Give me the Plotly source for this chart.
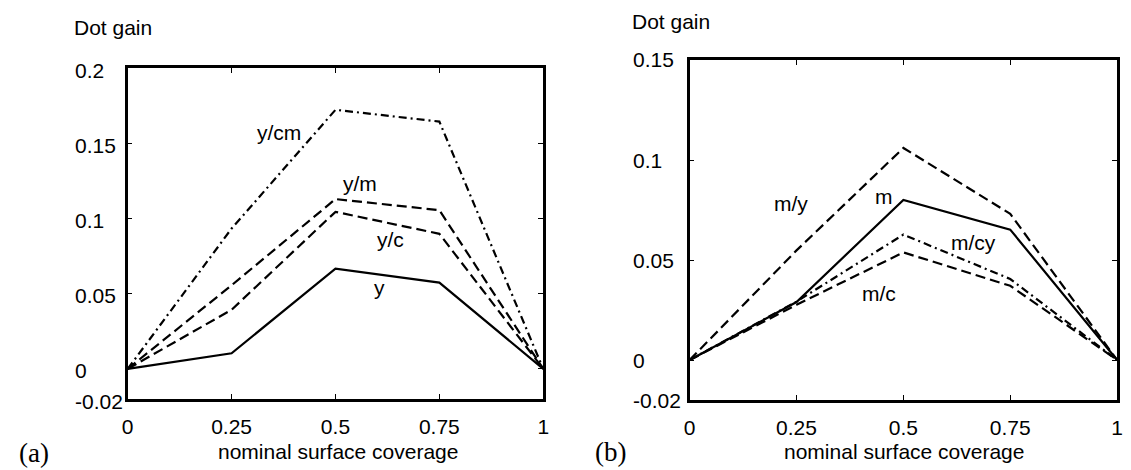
import plotly.graph_objects as go

# ---------------- data ----------------
coverage = [0, 0.25, 0.5, 0.75, 1]

# panel (a): yellow
a_y = [0, 0.0104, 0.0667, 0.0574, 0]
a_yc = [0, 0.0393, 0.1044, 0.0898, 0]
a_ym = [0, 0.0556, 0.1129, 0.1055, 0]
a_ycm = [0, 0.0933, 0.1722, 0.1644, 0]

# panel (b): magenta
b_m = [0, 0.0290, 0.0800, 0.0652, 0]
b_my = [0, 0.0548, 0.1060, 0.0731, 0]
b_mcy = [0, 0.0292, 0.0627, 0.0405, 0]
b_mc = [0, 0.0276, 0.0538, 0.0371, 0]

x_ticks = [0, 0.25, 0.5, 0.75, 1]
x_ticktext = ["0", "0.25", "0.5", "0.75", "1"]
a_yticks = [0.2, 0.15, 0.1, 0.05, 0, -0.02]
a_yticktext = ["0.2", "0.15", "0.1", "0.05", "0", "-0.02"]
b_yticks = [0.15, 0.1, 0.05, 0, -0.02]
b_yticktext = ["0.15", "0.1", "0.05", "0", "-0.02"]

a_labels = ["y/cm", "y/m", "y/c", "y"]
a_label_x = [0.363, 0.56, 0.633, 0.605]
a_label_y = [0.157, 0.123, 0.086, 0.054]
b_labels = ["m/y", "m", "m/cy", "m/c"]
b_label_x = [0.236, 0.455, 0.663, 0.443]
b_label_y = [0.0783, 0.0819, 0.059, 0.0331]

# ---------------- styles ----------------
FONT = "Liberation Sans, Arial, sans-serif"
SERIF = "Liberation Serif, Times New Roman, serif"
FS = 21
DASH = "10px,5px"
DASHDOT = "8px,4px,2px,4px"

W, H = 1131, 470
def px(x):
    return x / W
def py(y):
    return 1 - y / H

fig = go.Figure()

def add(xs, ys, dash, xa, ya):
    fig.add_trace(go.Scatter(x=xs, y=ys, mode="lines", xaxis=xa, yaxis=ya,
                             line=dict(color="black", width=2.2, dash=dash),
                             showlegend=False, hoverinfo="skip"))

add(coverage, a_ycm, DASHDOT, "x", "y")
add(coverage, a_ym, DASH, "x", "y")
add(coverage, a_yc, DASH, "x", "y")
add(coverage, a_y, "solid", "x", "y")

add(coverage, b_my, DASH, "x2", "y2")
add(coverage, b_mcy, DASHDOT, "x2", "y2")
add(coverage, b_mc, DASH, "x2", "y2")
add(coverage, b_m, "solid", "x2", "y2")

axis_common = dict(showline=True, linecolor="black", linewidth=2.5, mirror="ticks",
                   ticks="inside", ticklen=5, tickwidth=1, tickcolor="black",
                   showgrid=False, zeroline=False)

fig.update_layout(
    width=W, height=H,
    margin=dict(l=0, r=0, t=0, b=0),
    paper_bgcolor="white", plot_bgcolor="white",
    font=dict(family=FONT, size=FS, color="black"),
    xaxis=dict(domain=[px(123), px(543)], range=[0, 1], anchor="y",
               tickvals=x_ticks, ticktext=x_ticktext, ticklabelstandoff=7,
               tickfont=dict(size=FS), **axis_common),
    yaxis=dict(domain=[py(399), py(68)], range=[-0.02, 0.2], anchor="x",
               tickvals=a_yticks, showticklabels=False, **axis_common),
    xaxis2=dict(domain=[px(691), px(1123)], range=[0, 1], anchor="y2",
                tickvals=x_ticks, ticktext=x_ticktext, ticklabelstandoff=7,
                tickfont=dict(size=FS), **axis_common),
    yaxis2=dict(domain=[py(400), py(60)], range=[-0.02, 0.15], anchor="x2",
                tickvals=b_yticks, showticklabels=False, **axis_common),
)

ann = []
def note(text, x, y, xref, yref, xanchor="center", size=FS, family=FONT, yshift=0):
    ann.append(dict(x=x, y=y, xref=xref, yref=yref, text=text, showarrow=False,
                    xanchor=xanchor, yanchor="middle", yshift=yshift,
                    font=dict(size=size, family=family)))

# y tick labels, left aligned like the original
for v, t in zip(a_yticks, a_yticktext):
    note(t, px(68), v, "paper", "y", xanchor="left", yshift=-2)
for v, t in zip(b_yticks, b_yticktext):
    note(t, px(632), v, "paper", "y2", xanchor="left")
# curve labels
for t, x, y in zip(a_labels, a_label_x, a_label_y):
    note(t, x, y, "x", "y")
for t, x, y in zip(b_labels, b_label_x, b_label_y):
    note(t, x, y, "x2", "y2")
# axis titles
note("Dot gain", px(108), py(27), "paper", "paper")
note("Dot gain", px(672), py(21), "paper", "paper")
note("nominal surface coverage", px(336), py(451), "paper", "paper")
note("nominal surface coverage", px(908), py(451), "paper", "paper")
# panel letters
note("(a)", px(28), py(453), "paper", "paper", size=27, family=SERIF)
note("(b)", px(611), py(452), "paper", "paper", size=27, family=SERIF)
fig.update_layout(annotations=ann)

fig.write_html(
    "out.html",
    config={"displayModeBar": False},
    post_script="document.body.style.margin='0';document.body.style.overflow='hidden';",
)
